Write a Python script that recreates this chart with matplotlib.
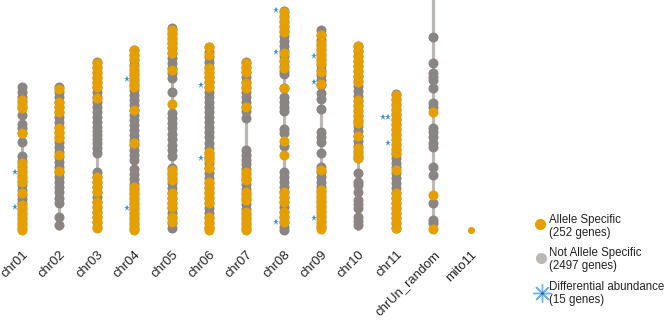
import matplotlib
matplotlib.use("Agg")
import matplotlib.pyplot as plt
import matplotlib.transforms as mtransforms

plt.rcParams['font.family'] = ['Liberation Sans', 'DejaVu Sans']

# -----------------------------
# Data (positions in Mb)
# -----------------------------
chrom_names = ["chr01", "chr02", "chr03", "chr04", "chr05", "chr06", "chr07",
               "chr08", "chr09", "chr10", "chr11", "chrUn_random", "mito11"]
chrom_lengths = [28.6, 28.6, 33.6, 36.0, 40.4, 36.6, 33.6, 43.8, 40.0, 36.8, 27.2, 50.0, 0.0]

not_specific = {
    "chr01": [28.6, 27.6, 26.6, 25.6, 24.6, 23.0, 21.2, 20.4, 19.4, 17.6, 14.8, 13.8, 12.8, 11.8,
              10.8, 9.8, 9.0, 8.0, 7.0, 6.2, 5.4, 4.4, 3.4, 2.4, 1.4, 0.4],
    "chr02": [28.6, 27.6, 26.6, 25.6, 24.6, 23.6, 22.6, 21.6, 20.6, 19.6, 18.6, 17.6, 16.6, 15.6,
              14.6, 13.6, 12.6, 11.6, 10.6, 9.6, 8.6, 7.6, 6.4, 5.4, 2.6, 1.0],
    "chr03": [33.6, 32.6, 31.6, 30.6, 29.6, 28.6, 27.6, 26.6, 25.6, 24.6, 23.6, 22.6, 21.6, 20.6,
              19.8, 19.0, 18.2, 17.4, 16.4, 15.4, 11.6, 10.6, 9.6, 8.6, 7.6, 6.6, 5.6, 4.6, 3.6,
              2.6, 1.6, 0.6],
    "chr04": [36.0, 35.0, 34.0, 33.0, 32.0, 31.0, 30.0, 29.0, 28.0, 27.0, 26.0, 25.0, 24.0, 23.0,
              22.0, 21.0, 20.0, 19.0, 18.0, 17.0, 16.0, 15.0, 14.0, 12.2, 11.2, 10.2, 9.2, 8.2,
              7.2, 6.2, 5.2, 4.2, 3.2, 2.2, 1.2, 0.2],
    "chr05": [40.4, 39.4, 38.4, 37.4, 36.4, 35.4, 34.4, 33.4, 32.4, 31.4, 30.4, 27.6, 23.4, 22.4,
              21.4, 20.4, 19.2, 18.2, 17.0, 16.0, 14.8, 12.4, 11.4, 10.4, 9.4, 8.4, 7.4, 6.4, 5.4,
              4.4, 3.4, 2.4, 1.4, 0.4],
    "chr06": [36.6, 35.6, 34.6, 33.6, 32.6, 31.6, 30.6, 29.6, 28.6, 27.6, 26.6, 25.6, 24.6, 23.6,
              22.6, 21.6, 20.6, 19.6, 18.6, 17.4, 16.4, 15.4, 14.4, 13.4, 12.4, 11.4, 10.4, 9.4,
              8.4, 7.4, 6.4, 5.4, 4.4, 3.4, 2.4, 1.4, 0.4],
    "chr07": [33.6, 32.6, 31.6, 30.6, 29.6, 28.6, 27.6, 26.6, 25.6, 24.6, 23.8, 22.4, 16.0, 15.0,
              14.0, 13.2, 12.2, 11.2, 10.2, 9.2, 8.2, 7.2, 6.2, 5.2, 4.2, 3.2, 2.2, 1.2, 0.2],
    "chr08": [43.8, 42.8, 41.8, 40.8, 39.8, 38.8, 37.8, 36.8, 35.8, 34.8, 33.8, 32.8, 31.8, 31.2,
              28.4, 26.6, 25.6, 24.6, 23.8, 20.2, 19.4, 16.8, 11.6, 10.6, 9.6, 8.6, 7.6, 6.6, 5.6,
              4.6, 3.6, 2.6, 1.6, 0.6, 0.0],
    "chr09": [40.0, 39.0, 38.0, 37.0, 36.0, 35.0, 34.0, 33.0, 32.0, 31.0, 30.0, 29.0, 27.4, 26.2,
              24.2, 19.6, 18.6, 17.6, 15.4, 12.6, 11.6, 10.6, 9.6, 8.6, 7.6, 6.6, 5.6, 4.6, 3.6,
              2.6, 1.6, 0.6],
    "chr10": [36.8, 35.8, 34.8, 33.8, 32.8, 31.8, 30.8, 29.8, 28.8, 27.8, 26.8, 25.8, 24.8, 23.8,
              22.8, 21.8, 20.8, 19.8, 18.8, 17.8, 16.8, 15.8, 14.8, 14.4, 11.4, 9.6, 9.0, 7.6,
              6.0, 5.2, 4.4, 2.6, 1.8, 1.0],
    "chr11": [27.2, 26.2, 25.2, 24.2, 23.2, 22.2, 21.2, 20.2, 19.2, 18.2, 17.2, 16.2, 15.2, 14.4,
              13.4, 12.6, 11.4, 10.4, 9.4, 8.4, 7.4, 6.4, 5.4, 4.4, 3.4, 2.4, 1.4, 0.4],
    "chrUn_random": [38.6, 33.4, 31.4, 30.6, 30.0, 28.4, 25.4, 24.6, 20.4, 19.6, 18.6, 17.4,
                     16.6, 12.6, 11.0, 5.4, 2.0, 1.4],
    "mito11": [],
}

allele_specific = {
    "chr01": [26.0, 25.0, 24.4, 19.4, 13.4, 12.4, 11.4, 10.4, 9.6, 7.4, 5.0, 4.0, 3.0, 2.0, 1.0, 0.0],
    "chr02": [28.2, 25.6, 24.6, 23.6, 20.4, 19.4, 18.4, 15.0, 11.8],
    "chr03": [33.4, 32.4, 31.4, 30.4, 29.4, 28.6, 26.4, 10.6, 9.6, 8.6, 7.6, 5.6, 4.6, 3.6, 2.6,
              1.6, 0.4],
    "chr04": [36.0, 35.0, 34.2, 32.6, 31.4, 30.4, 29.4, 28.6, 24.0, 17.4, 8.6, 7.6, 6.6, 5.6, 4.6,
              3.6, 2.6, 1.6, 0.6, 0.0],
    "chr05": [40.0, 39.0, 38.0, 37.4, 36.6, 35.4, 32.0, 25.2, 12.0, 11.0, 10.0, 7.4, 6.4, 5.4, 4.6,
              2.6, 1.6],
    "chr06": [36.6, 35.0, 32.4, 31.4, 30.6, 29.6, 28.6, 15.6, 14.8, 14.0, 12.4, 9.6, 8.6, 7.6, 6.6,
              5.4, 2.6, 1.6, 0.6, 0.0],
    "chr07": [33.4, 32.4, 31.6, 29.4, 28.4, 24.6, 11.6, 10.6, 10.0, 7.6, 6.6, 6.0, 3.6, 2.6, 1.6,
              0.6, 0.0],
    "chr08": [43.6, 42.6, 41.6, 40.6, 39.6, 35.4, 33.8, 32.4, 28.4, 17.8, 15.0, 7.6, 6.6, 5.6, 3.6,
              2.6, 1.6],
    "chr09": [39.0, 37.4, 36.4, 35.4, 34.4, 33.4, 31.6, 29.2, 12.0, 8.0, 7.0, 6.0, 5.0, 4.0, 3.0,
              2.0, 1.0, 0.2],
    "chr10": [36.8, 35.8, 34.8, 33.8, 32.8, 31.8, 30.8, 29.6, 26.0, 25.0, 24.0, 23.0, 22.0, 21.4,
              18.8, 16.4, 15.4, 14.4],
    "chr11": [27.0, 26.0, 25.0, 24.0, 23.0, 22.0, 21.0, 20.0, 19.0, 18.0, 17.0, 16.0, 15.4, 12.0,
              7.4, 6.4, 5.4, 4.4, 3.4, 2.4, 1.4, 0.4],
    "chrUn_random": [23.6, 7.0, 0.2],
    "mito11": [0.0],
}

diff_abundance = {
    "chr01": [11.6, 4.6],
    "chr04": [30.2, 4.4],
    "chr06": [29.0, 14.4],
    "chr08": [44.0, 35.6, 1.6],
    "chr09": [34.8, 29.6, 2.4],
    "chr11": [22.6, 22.6, 17.4],
}

legend_labels = [("Allele Specific", "(252 genes)"),
                 ("Not Allele Specific", "(2497 genes)"),
                 ("Differential abundance", "(15 genes)")]

# -----------------------------
# Colores
# -----------------------------
c_orange = "#E69F00"
c_gray = "#8a8583"
c_line = "#bcb8b5"
c_legend_gray = "#bdb8b5"
c_blue = "#3d8fd8"

fig = plt.figure(figsize=(6.66, 3.22), dpi=100)
ax = fig.add_axes([0, 86 / 322, 493 / 666, 236 / 322])

for i, name in enumerate(chrom_names):
    L = chrom_lengths[i]
    if L > 0:
        ax.plot([i, i], [0, L], color=c_line, lw=2.3, solid_capstyle="butt", zorder=1)
    g = not_specific[name]
    ax.scatter([i] * len(g), g, s=52, color=c_gray, linewidths=0, zorder=2)
    o = allele_specific[name]
    size = 26 if L == 0 else 52
    ax.scatter([i] * len(o), o, s=size, color=c_orange, linewidths=0, zorder=3)
    # asteriscos, desplazados a la izquierda si se repiten
    seen = {}
    for y in diff_abundance.get(name, []):
        k = seen.get(y, 0)
        seen[y] = k + 1
        ax.plot(i - 0.2 - 0.13 * k, y, marker="*", ms=5, color=c_blue, mew=0, zorder=4)

ax.set_xlim(-0.59, 12.6)
ax.set_ylim(-1.2, 46)
ax.set_xticks(range(len(chrom_names)))
ax.set_xticklabels(chrom_names, rotation=45, ha="right", va="center",
                   rotation_mode="anchor", fontsize=9.4, color="#222222")
ax.tick_params(axis="x", length=0, pad=12)
offset = mtransforms.ScaledTranslation(4.5 / 100, 0, fig.dpi_scale_trans)
for lab in ax.get_xticklabels():
    lab.set_transform(lab.get_transform() + offset)
ax.set_yticks([])
for s in ax.spines.values():
    s.set_visible(False)

# -----------------------------
# Leyenda (coordenadas en pixeles)
# -----------------------------
lg = fig.add_axes([0, 0, 1, 1], facecolor="none")
lg.set_xlim(0, 666)
lg.set_ylim(322, 0)
lg.axis("off")
lg.scatter([540], [224], s=64, color=c_orange, linewidths=0)
lg.scatter([541], [258], s=64, color=c_legend_gray, linewidths=0)
lg.plot([542], [293], marker=(8, 2, 0), ms=13, color="#6ab4ee", mew=1.0)
lg.plot([542], [293], marker="o", ms=2, color="#1f5fa8", mew=0)
ys = [220, 253, 287]
for (l1, l2), y in zip(legend_labels, ys):
    lg.text(549, y, l1, fontsize=8.3, va="center", ha="left", color="#222222")
    lg.text(549, y + 13, l2, fontsize=8.3, va="center", ha="left", color="#222222")

plt.savefig("out.png", dpi=100)
